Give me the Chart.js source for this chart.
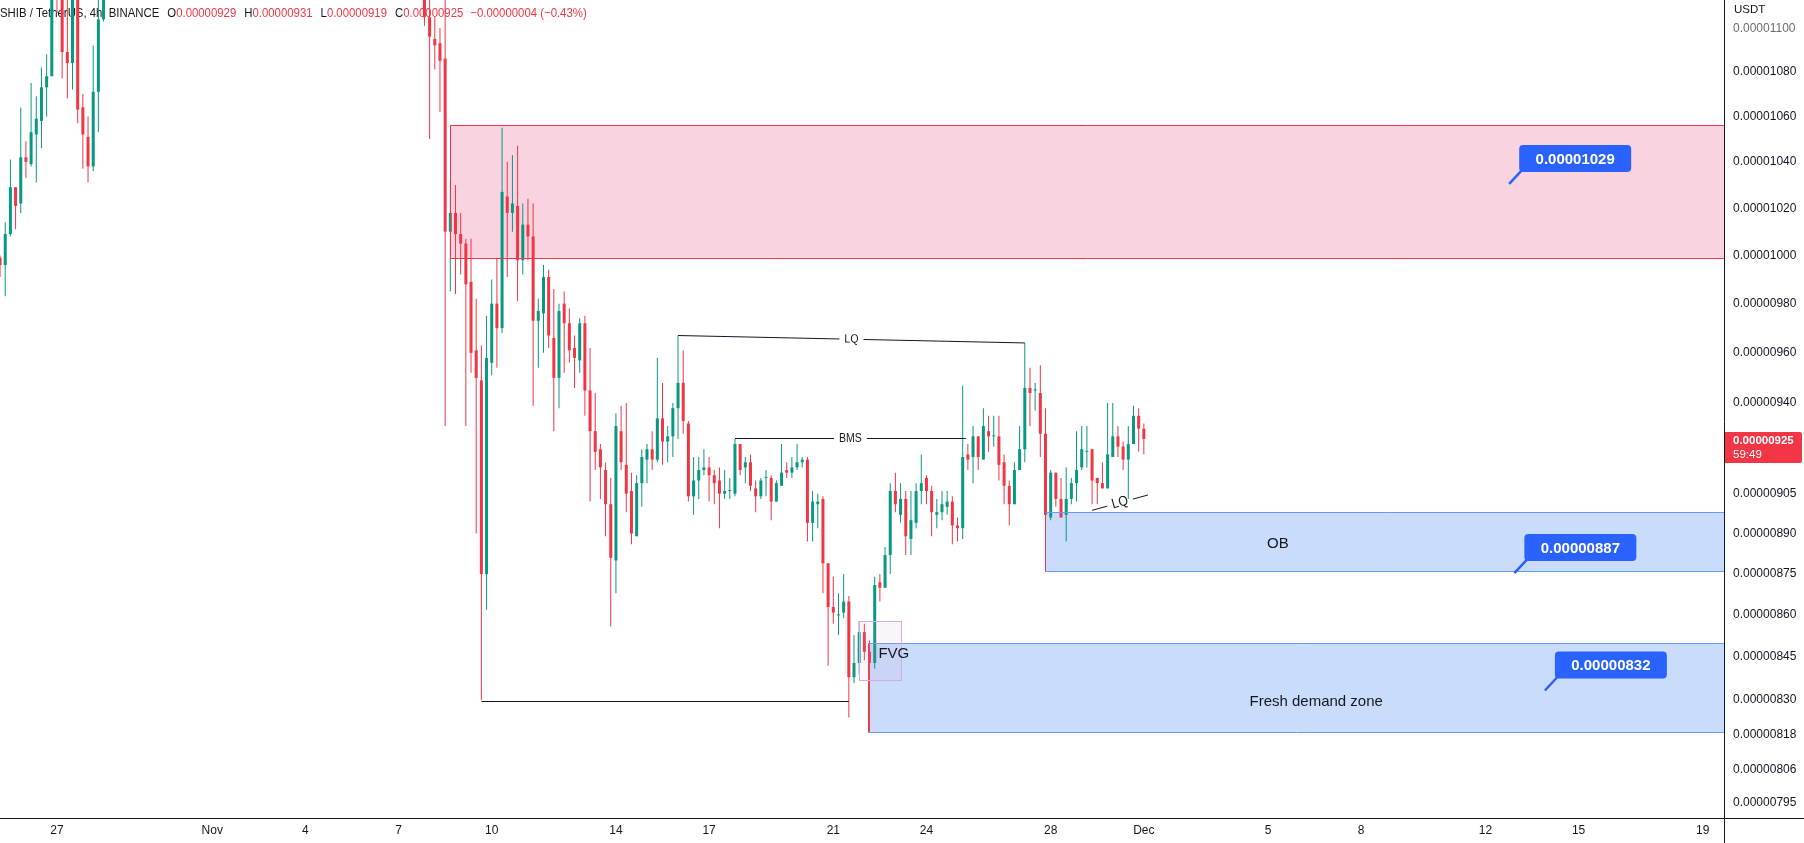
<!DOCTYPE html>
<html lang="en">
<head>
<meta charset="utf-8">
<title>SHIB / TetherUS, 4h, BINANCE</title>
<script src="https://cdn.jsdelivr.net/npm/chart.js@4.4.1/dist/chart.umd.min.js"></script>
<style>
  html, body { margin: 0; padding: 0; background: #ffffff; overflow: hidden; }
  canvas { display: block; }
</style>
</head>
<body>
<canvas id="chart" width="1804" height="843"></canvas>
<script>
// 4h bars. x value = bar number counted from 27 Oct 00:00 (6 bars a day).
// Prices are in units of 0.00000001 USDT.
const octFirstBar = -11;
const octOpen  = [998, 995, 1008, 1028, 1021, 1041, 1038, 1051, 1057, 1072, 1077, 1133, 1126, 1088, 1083, 1120, 1063, 1050, 1037, 1070, 1103];
const octHigh  = [999, 1013, 1040, 1028, 1063, 1048, 1074, 1068, 1081, 1087, 1138, 1142, 1130, 1115, 1124, 1126, 1069, 1059, 1091, 1118, 1130];
const octLow   = [990, 982, 1007, 1010, 1017, 1032, 1037, 1030, 1045, 1059, 1077, 1106, 1076, 1067, 1071, 1056, 1036, 1030, 1035, 1052, 1102];
const octClose = [995, 1008, 1028, 1020, 1041, 1039, 1052, 1058, 1072, 1077, 1133, 1126, 1088, 1083, 1120, 1062, 1051, 1037, 1070, 1103, 1125];

const novFirstBar = 71;
const novOpen = [
  1122, 1104, 1094, 1092, 1085, 1009, 1017, 1008, 1004, 988, 960, 948, 874, 955, 979, 969, 1024, 1017, 1020, 997,
  1012, 1007, 972, 975, 990, 965, 949, 979, 971, 961, 956, 971, 944, 928, 921, 913, 900, 879, 928, 915,
  905, 888, 908, 917, 921, 917, 933, 924, 926, 937, 947, 931, 903, 909, 913, 914, 911, 909, 904, 905,
  904, 923, 914, 916, 906, 903, 910, 910, 901, 907, 913, 912, 914, 916, 917, 893, 900, 902, 878, 862,
  859, 860, 864, 837, 842, 853, 846, 842, 871, 869, 881, 905, 896, 902, 887, 893, 905, 910, 905, 896,
  897, 899, 901, 892, 891, 919, 918, 926, 917, 928, 926, 926, 916, 907, 900, 913, 921, 945, 944, 943,
  927, 895, 912, 902, 896, 902, 908, 914, 920, 921, 910, 908, 906, 918, 926, 922, 917, 923, 934, 929];
const novHigh = [
  1130, 1120, 1104, 1099, 1115, 1031, 1029, 1017, 1006, 1006, 981, 962, 974, 989, 998, 1054, 1039, 1042, 1046, 1021,
  1023, 1021, 981, 995, 993, 985, 979, 984, 977, 966, 973, 974, 961, 943, 923, 916, 910, 935, 938, 939,
  912, 911, 921, 923, 928, 957, 947, 930, 939, 966, 960, 932, 918, 918, 921, 918, 913, 914, 913, 910,
  925, 923, 918, 919, 909, 910, 913, 911, 909, 923, 916, 918, 923, 918, 918, 905, 904, 903, 878, 873,
  867, 874, 866, 852, 857, 856, 850, 873, 874, 884, 908, 912, 908, 905, 905, 908, 919, 911, 907, 902,
  905, 905, 903, 895, 946, 923, 930, 926, 937, 934, 934, 934, 919, 909, 916, 930, 963, 953, 947, 954,
  937, 913, 912, 910, 914, 910, 928, 930, 930, 921, 910, 916, 939, 939, 930, 924, 930, 938, 937, 931];
const novLow = [
  1100, 1049, 1080, 1061, 930, 984, 983, 991, 930, 951, 889, 829, 861, 950, 953, 967, 990, 1009, 980, 991,
  997, 938, 953, 959, 961, 928, 937, 951, 955, 945, 951, 934, 901, 913, 902, 888, 855, 867, 913, 897,
  885, 888, 899, 908, 913, 916, 915, 916, 918, 925, 927, 901, 896, 902, 911, 901, 900, 891, 902, 902,
  903, 911, 908, 905, 897, 902, 903, 894, 901, 907, 910, 910, 913, 914, 886, 886, 891, 867, 841, 856,
  852, 858, 823, 835, 838, 843, 818, 840, 864, 869, 874, 897, 893, 881, 881, 891, 900, 900, 888, 891,
  894, 896, 885, 886, 887, 913, 908, 913, 917, 920, 922, 909, 900, 892, 900, 913, 916, 930, 936, 918,
  896, 894, 899, 895, 886, 900, 901, 913, 914, 900, 900, 906, 906, 918, 918, 913, 902, 923, 920, 919];
const novClose = [
  1104, 1095, 1091, 1084, 1009, 1017, 1008, 1004, 987, 959, 949, 874, 957, 979, 969, 1026, 1017, 1021, 997, 1012,
  1007, 972, 976, 990, 966, 949, 976, 971, 960, 957, 971, 944, 928, 920, 914, 900, 880, 930, 916, 904,
  889, 908, 918, 921, 917, 933, 924, 926, 937, 947, 932, 903, 909, 913, 914, 911, 908, 904, 905, 905,
  923, 913, 916, 907, 903, 909, 910, 901, 908, 912, 912, 914, 916, 917, 893, 901, 901, 878, 862, 860,
  859, 864, 837, 842, 853, 846, 842, 870, 869, 881, 905, 900, 902, 888, 894, 905, 908, 905, 897, 897,
  900, 901, 892, 891, 918, 917, 926, 918, 930, 926, 926, 915, 907, 900, 913, 921, 945, 943, 944, 927,
  896, 912, 902, 895, 902, 908, 913, 921, 920, 909, 908, 906, 919, 926, 922, 917, 923, 934, 929, 925];

// axis ticks
const dayTicks = [0, 5, 8, 11, 14, 18, 21, 25, 28, 32, 35, 39, 42, 46, 49, 53];
const dayLabels = ['27', 'Nov', '4', '7', '10', '14', '17', '21', '24', '28', 'Dec', '5', '8', '12', '15', '19'];
const priceTicks = [1100, 1080, 1060, 1040, 1020, 1000, 980, 960, 940, 905, 890, 875, 860, 845, 830, 818, 806, 795];

// marked price areas [low, high] and the target labels
const supplyZone = [998, 1055];
const orderBlock = [875, 897];
const demandZone = [818, 849];
const fairValueGap = [836, 857];
const targets = [1029, 887, 832];

const up = '#089981';
const down = '#f23645';
const ink = '#131722';
const uiFont = '"Liberation Sans", Arial, sans-serif';

function toBars(first, o, h, l, c) {
  return o.map((v, i) => ({ x: first + i, o: v, h: h[i], l: l[i], c: c[i] }));
}
const bars = toBars(octFirstBar, octOpen, octHigh, octLow, octClose)
  .concat(toBars(novFirstBar, novOpen, novHigh, novLow, novClose));
const barColor = bars.map(b => (b.c >= b.o ? up : down));
const fmt = v => (v / 1e8).toFixed(8);

// drawings placed on the chart, in bar / price coordinates
const zones = [
  { range: supplyZone, from: 76, fill: '#f9d3df', line: '#f23645' },
  { range: orderBlock, from: 191, fill: '#c9dcfb', line: '#6b9af2', edge: '#f23645' },
  { range: demandZone, from: 156.8, fill: '#c9dcfb', line: '#6b9af2', edge: '#f23645' }
];
const lines = [
  { a: [120, 966], b: [187, 963], text: 'LQ' },
  { a: [131, 925.2], b: [175.6, 925.2], text: 'BMS' },
  { a: [82, 828.8], b: [153, 828.8] },
  { a: [200, 897.7], b: [210.8, 903.5], text: 'LQ', big: true }
];
const notes = [
  { at: [235.9, 885], text: 'OB' },
  { at: [243.3, 828.5], text: 'Fresh demand zone' },
  { at: [161.7, 845.3], text: 'FVG' }
];
const callouts = [
  { at: [280.4, 1029], value: targets[0] },
  { at: [281.4, 874], value: targets[1] },
  { at: [287.3, 832], value: targets[2] }
];

// text drawn a little condensed, like the terminal font
function squeezed(ctx, text, x, y, sx) {
  ctx.save();
  ctx.translate(x, y);
  ctx.scale(sx, 1);
  ctx.fillText(text, 0, 0);
  ctx.restore();
  return ctx.measureText(text).width * sx;
}

const drawings = {
  id: 'drawings',
  beforeDatasetsDraw(chart) {
    const { ctx, chartArea: area, scales: { x, y } } = chart;
    ctx.save();

    // legend line
    const last = bars[bars.length - 1];
    const prev = bars[bars.length - 2];
    const tone = last.c >= last.o ? up : down;
    const diff = last.c - prev.c;
    const pct = (diff / prev.c * 100).toFixed(2).replace('-', '\u2212');
    const diffText = (diff < 0 ? '\u2212' : '+') + fmt(Math.abs(diff)) + ' (' + pct + '%)';
    const parts = [
      ['SHIB / TetherUS, 4h, BINANCE', ink, 8],
      ['O', ink, 0], [fmt(last.o), tone, 8],
      ['H', ink, 0], [fmt(last.h), tone, 8],
      ['L', ink, 0], [fmt(last.l), tone, 8],
      ['C', ink, 0], [fmt(last.c), tone, 7],
      [diffText, tone, 0]
    ];
    ctx.font = '12.5px ' + uiFont;
    ctx.textBaseline = 'middle';
    let cx = 0;
    parts.forEach(([t, col, gap]) => {
      ctx.fillStyle = col;
      cx += squeezed(ctx, t, cx, 13.5, 0.91) + gap;
    });

    // zone fills
    zones.forEach(z => {
      const x1 = x.getPixelForValue(z.from);
      const y1 = y.getPixelForValue(z.range[1]);
      const y2 = y.getPixelForValue(z.range[0]);
      ctx.fillStyle = z.fill;
      ctx.fillRect(x1, y1, area.right - x1, y2 - y1);
    });
    ctx.restore();
  },
  afterDatasetsDraw(chart) {
    const { ctx, chartArea: area, scales: { x, y } } = chart;
    const X = v => x.getPixelForValue(v);
    const Y = v => y.getPixelForValue(v);
    const crisp = v => Math.round(v) + 0.5;
    ctx.save();
    ctx.lineWidth = 1;

    // zone borders
    zones.forEach(z => {
      const x1 = crisp(X(z.from));
      const y1 = crisp(Y(z.range[1]));
      const y2 = crisp(Y(z.range[0]));
      ctx.strokeStyle = z.line;
      ctx.beginPath();
      ctx.moveTo(x1, y1); ctx.lineTo(area.right, y1);
      ctx.moveTo(x1, y2); ctx.lineTo(area.right, y2);
      ctx.stroke();
      ctx.strokeStyle = z.edge || z.line;
      ctx.beginPath();
      ctx.moveTo(x1, y1); ctx.lineTo(x1, y2);
      ctx.stroke();
    });

    // fair value gap box
    const gx1 = crisp(X(155)), gx2 = crisp(X(163));
    const gy1 = crisp(Y(fairValueGap[1])), gy2 = crisp(Y(fairValueGap[0]));
    ctx.fillStyle = 'rgba(206, 147, 216, 0.10)';
    ctx.fillRect(gx1, gy1, gx2 - gx1, gy2 - gy1);
    ctx.strokeStyle = '#cfb0e6';
    ctx.strokeRect(gx1, gy1, gx2 - gx1, gy2 - gy1);

    // structure lines with a label in the middle
    lines.forEach(l => {
      const x1 = X(l.a[0]), y1 = Y(l.a[1]);
      const x2 = X(l.b[0]), y2 = Y(l.b[1]);
      const flat = Math.abs(y2 - y1) < 0.5;
      const ya = flat ? crisp(y1) : y1, yb = flat ? crisp(y2) : y2;
      ctx.strokeStyle = ink;
      if (!l.text) {
        ctx.beginPath(); ctx.moveTo(x1, ya); ctx.lineTo(x2, yb); ctx.stroke();
        return;
      }
      ctx.font = (l.big ? '14px ' : '12px ') + uiFont;
      const tw = ctx.measureText(l.text).width * 0.88;
      const len = Math.hypot(x2 - x1, yb - ya);
      const ux = (x2 - x1) / len, uy = (yb - ya) / len;
      const mx = (x1 + x2) / 2, my = (ya + yb) / 2;
      const gap = tw / 2 + 5;
      ctx.beginPath();
      ctx.moveTo(x1, ya); ctx.lineTo(mx - ux * gap, my - uy * gap);
      ctx.moveTo(mx + ux * gap, my + uy * gap); ctx.lineTo(x2, yb);
      ctx.stroke();
      ctx.save();
      ctx.translate(mx, my);
      ctx.rotate(Math.atan2(uy, ux));
      ctx.fillStyle = ink;
      ctx.textBaseline = 'middle';
      squeezed(ctx, l.text, -tw / 2, 0, 0.88);
      ctx.restore();
    });

    // zone captions
    ctx.font = '15px ' + uiFont;
    ctx.fillStyle = ink;
    ctx.textAlign = 'center';
    ctx.textBaseline = 'middle';
    notes.forEach(n => ctx.fillText(n.text, X(n.at[0]), Y(n.at[1])));

    // target price labels
    callouts.forEach(c => {
      const tx = X(c.at[0]), ty = Y(c.at[1]);
      const w = 112, h = 27;
      const bx = tx + 11, by = ty - 13 - h;
      ctx.fillStyle = '#2962ff';
      ctx.beginPath();
      ctx.roundRect(bx, by, w, h, 4);
      ctx.fill();
      ctx.strokeStyle = '#2962ff';
      ctx.lineWidth = 2.5;
      ctx.beginPath();
      ctx.moveTo(bx + 3, by + h - 2);
      ctx.lineTo(tx + 1, ty - 1);
      ctx.stroke();
      ctx.lineWidth = 1;
      ctx.fillStyle = '#ffffff';
      ctx.font = 'bold 15px ' + uiFont;
      ctx.fillText(fmt(c.value), bx + w / 2, by + h / 2 + 1);
    });
    ctx.restore();
  },
  afterDraw(chart) {
    const { ctx, chartArea: area, scales: { y } } = chart;
    const W = chart.width, H = chart.height;
    ctx.save();
    // axis frame
    ctx.strokeStyle = ink;
    ctx.lineWidth = 1;
    ctx.beginPath();
    ctx.moveTo(area.right + 0.5, 0); ctx.lineTo(area.right + 0.5, H);
    ctx.moveTo(0, area.bottom + 0.5); ctx.lineTo(W, area.bottom + 0.5);
    ctx.stroke();
    // currency
    ctx.font = '11.5px ' + uiFont;
    ctx.fillStyle = ink;
    ctx.textBaseline = 'middle';
    ctx.fillText('USDT', area.right + 10, 10);
    // last price tag
    const last = bars[bars.length - 1];
    const py = y.getPixelForValue(last.c);
    ctx.fillStyle = last.c >= last.o ? up : down;
    ctx.beginPath();
    ctx.roundRect(area.right + 1, py - 7, 77, 31, [0, 2, 2, 0]);
    ctx.fill();
    ctx.fillStyle = '#ffffff';
    ctx.font = 'bold 11.5px ' + uiFont;
    ctx.fillText(fmt(last.c), area.right + 9, py + 2);
    ctx.font = '11.5px ' + uiFont;
    ctx.fillText('59:49', area.right + 9, py + 16);
    ctx.restore();
  }
};

new Chart(document.getElementById('chart'), {
  type: 'bar',
  data: {
    datasets: [
      {
        label: 'wick',
        data: bars.map(b => ({ x: b.x, y: [b.l, b.h] })),
        backgroundColor: barColor,
        maxBarThickness: 1,
        grouped: false,
        inflateAmount: 0,
        borderWidth: 0,
        clip: 0
      },
      {
        label: 'body',
        data: bars.map(b => ({ x: b.x, y: [b.o, b.c] })),
        backgroundColor: barColor,
        maxBarThickness: 3,
        minBarLength: 1,
        grouped: false,
        inflateAmount: 0,
        borderWidth: 0,
        clip: 0
      }
    ]
  },
  options: {
    responsive: false,
    animation: false,
    devicePixelRatio: 1,
    layout: { padding: 0 },
    plugins: {
      legend: { display: false },
      tooltip: { enabled: false }
    },
    scales: {
      x: {
        type: 'linear',
        offset: false,
        bounds: 'data',
        min: -11.01,
        max: 322.1,
        grid: { display: false, drawTicks: false },
        border: { display: false },
        afterBuildTicks: s => { s.ticks = dayTicks.map(d => ({ value: d * 6 })); },
        afterFit: s => { s.height = 25; s.paddingLeft = 0; s.paddingRight = 0; },
        ticks: {
          autoSkip: false,
          maxRotation: 0,
          minRotation: 0,
          padding: 5,
          color: ink,
          font: { family: uiFont, size: 12 },
          callback: v => {
            const i = dayTicks.indexOf(v / 6);
            return i >= 0 ? dayLabels[i] : '';
          }
        }
      },
      y: {
        type: 'logarithmic',
        position: 'right',
        bounds: 'data',
        min: 789,
        max: 1112,
        grid: { display: false, drawTicks: false },
        border: { display: false },
        afterBuildTicks: s => { s.ticks = priceTicks.map(v => ({ value: v })); },
        afterFit: s => { s.width = 80; s.paddingTop = 0; s.paddingBottom = 0; },
        ticks: {
          autoSkip: false,
          padding: 9,
          labelOffset: 2.5,
          crossAlign: 'near',
          font: { family: uiFont, size: 12 },
          color: c => (c.tick && c.tick.value === 1100 ? '#6a6d78' : ink),
          callback: v => fmt(v)
        }
      }
    }
  },
  plugins: [drawings]
});
</script>
</body>
</html>
